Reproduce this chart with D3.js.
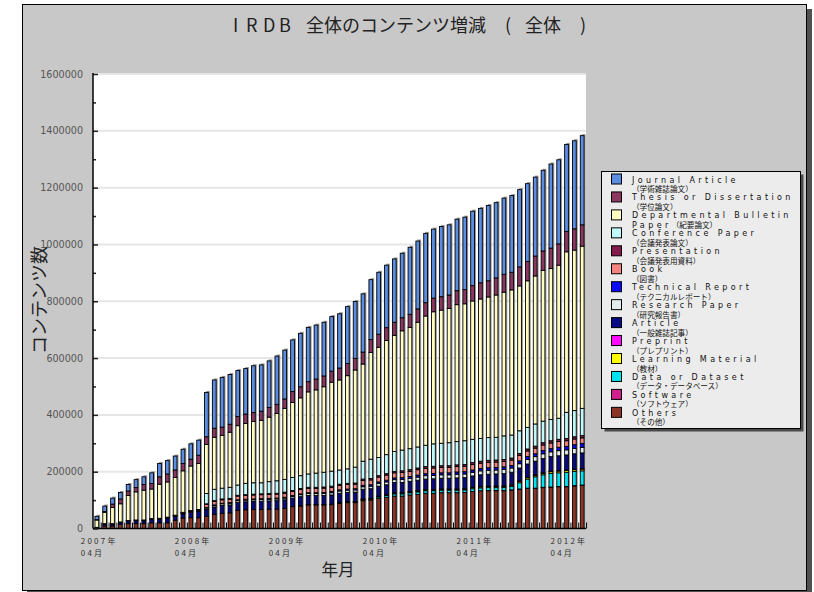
<!DOCTYPE html>
<html>
<head>
<meta charset="utf-8">
<script src="https://cdn.jsdelivr.net/npm/d3@7/dist/d3.min.js"></script>
<style>
  body { margin: 0; background: #fff; }
  svg text { font-family: "DejaVu Sans", "Noto Sans CJK JP", sans-serif; }
  .jp { font-family: "Noto Sans CJK JP", "DejaVu Sans", sans-serif; }
</style>
</head>
<body>
<svg id="chart" width="814" height="592"></svg>
<script>
// months shown on the x axis (one bar per month)
var months = [
  "2007/04","2007/05","2007/06","2007/07","2007/08","2007/09","2007/10","2007/11","2007/12","2008/01","2008/02","2008/03",
  "2008/04","2008/05","2008/06","2008/07","2008/08","2008/09","2008/10","2008/11","2008/12","2009/01","2009/02","2009/03",
  "2009/04","2009/05","2009/06","2009/07","2009/08","2009/09","2009/10","2009/11","2009/12","2010/01","2010/02","2010/03",
  "2010/04","2010/05","2010/06","2010/07","2010/08","2010/09","2010/10","2010/11","2010/12","2011/01","2011/02","2011/03",
  "2011/04","2011/05","2011/06","2011/07","2011/08","2011/09","2011/10","2011/11","2011/12","2012/01","2012/02","2012/03",
  "2012/04","2012/05","2012/06"
];

// x labels (year line / month line) and where they sit
var xLabelMonths = ["2007/04","2008/04","2009/04","2010/04","2011/04","2012/04"];
var xLabelYears  = ["2007年","2008年","2009年","2010年","2011年","2012年"];
var xLabelSub    = ["04月","04月","04月","04月","04月","04月"];

var yTicks = [0,200000,400000,600000,800000,1000000,1200000,1400000,1600000];
var yMinorTicks = [100000,300000,500000,700000,900000,1100000,1300000,1500000];

// series values (items per month)
var others = [2000,9000,9000,15000,17000,17000,17000,20000,20000,20000,29000,37000,38000,38000,
  43000,50000,53000,55000,64000,66000,67000,67000,68000,68000,
  71000,77000,79000,83000,83000,83000,84000,88000,91000,91000,
  98000,100000,106000,110000,114000,114000,118000,120000,124000,124000,
  126000,126000,126000,127000,130000,133000,133000,133000,133000,135000,
  138000,141000,141000,144000,145000,147000,147000,150000,152000];
var software = [0,0,0,0,0,0,0,0,0,0,0,0,0,0, 0,0,0,0,0,0,0,0,0,0, 0,0,0,0,0,0,0,0,0,0,
  0,0,0,0,0,0,0,0,0,0, 0,0,0,0,0,0,1000,1000,1000,1000, 1000,1000,1000,1000,1000,1000,1000,1000,1000];
var dataset = [0,0,0,0,0,0,0,0,0,0,0,0,0,0, 0,0,0,0,0,0,0,0,0,0, 0,0,1000,1000,1000,1000,1000,2000,2000,2000,
  3000,3000,5000,6000,8000,8000,8000,9000,9000,9000,
  9000,9000,9000,9000,10000,10000,10000,10000,10000,12000,
  22000,32000,40000,44000,48000,48000,50000,50000,50000];
var learning = [0,0,0,0,0,0,0,0,0,0,0,0,0,0, 0,0,0,0,0,0,0,0,0,0, 0,0,1000,1000,1000,1000,1000,1000,1000,1000,
  2000,2000,2000,2000,3000,3000,3000,3000,3000,3000,
  3000,3000,3000,3000,4000,4000,4000,4000,4000,4000,
  5000,5000,5000,5000,6000,6000,6000,6000,6000];
var preprint = [0,0,0,0,0,0,0,0,0,0,0,0,0,0, 0,0,0,0,0,0,0,0,0,0, 0,0,0,0,0,0,0,1000,1000,1000,
  1000,1000,1000,1000,1000,1000,1000,1000,1000,1000,
  1000,1000,1000,1000,1000,1000,1000,2000,2000,2000,
  2000,2000,2000,2000,2000,2000,2000,2000,2000];
var article = [2000,7000,7000,7000,9000,10000,10000,12000,12000,15000,13000,14000,18000,22000,
  24000,26000,28000,28000,28000,28000,28000,29000,29000,30000,
  30000,30000,31000,31000,31000,31000,32000,32000,32000,33000,
  34000,34000,35000,35000,36000,36000,36000,37000,37000,38000,
  38000,38000,39000,39000,40000,41000,42000,42000,43000,44000,
  45000,46000,48000,50000,51000,52000,53000,54000,55000];
var research = [0,1000,1000,1000,1000,2000,2000,2000,3000,3000,3000,3000,4000,4000,
  5000,5000,6000,6000,6000,6000,6000,6000,6000,6000,
  6000,6000,7000,7000,7000,7000,8000,8000,8000,8000,
  9000,9000,10000,10000,10000,11000,11000,11000,12000,12000,
  12000,12000,13000,13000,13000,14000,14000,14000,15000,15000,
  15000,16000,16000,17000,17000,18000,18000,19000,20000];
var technical = [0,0,0,0,1000,1000,1000,1000,1000,1000,1000,1000,1000,1000,
  2000,2000,2000,2000,3000,3000,3000,3000,3000,3000,
  3000,3000,3000,3000,3000,4000,4000,4000,4000,4000,
  5000,5000,5000,6000,6000,6000,6000,7000,7000,7000,
  7000,7000,8000,8000,8000,8000,9000,9000,9000,9000,
  10000,10000,10000,11000,11000,12000,12000,13000,13000];
var book = [0,0,0,0,0,0,0,0,0,1000,1000,1000,1000,1000,
  11000,12000,12000,12000,13000,13000,14000,14000,14000,14000,
  14000,14000,15000,15000,15000,15000,15000,16000,16000,16000,
  17000,17000,17000,18000,18000,18000,18000,19000,19000,19000,
  19000,19000,19000,19000,19000,19000,19000,19000,19000,19000,
  19000,20000,20000,20000,20000,20000,20000,20000,20000];
var presentation = [0,0,0,0,0,0,0,0,0,0,0,0,0,0,
  2000,3000,3000,3000,3000,3000,3000,3000,3000,3000,
  4000,4000,4000,4000,4000,4000,4000,4000,4000,4000,
  5000,5000,5000,5000,5000,6000,6000,6000,6000,6000,
  6000,6000,6000,6000,7000,7000,7000,7000,7000,7000,
  7000,7000,7000,8000,8000,8000,8000,8000,8000];
var conference = [0,0,0,0,0,0,0,0,0,0,0,1000,1000,1000,
  36000,40000,38000,39000,36000,40000,40000,39000,42000,44000,
  45000,46000,45000,47000,50000,52000,53000,50000,51000,56000,
  63000,68000,64000,67000,70000,73000,74000,74000,75000,79000,
  79000,81000,82000,84000,82000,80000,80000,80000,83000,81000,
  80000,76000,78000,76000,75000,74000,92000,92000,96000];
var departmental = [26000,40000,57000,64000,88000,99000,105000,104000,120000,124000,133000,146000,157000,162000,
  173000,183000,186000,194000,209000,211000,216000,220000,227000,237000,
  250000,264000,274000,289000,293000,301000,313000,317000,328000,342000,
  342000,376000,388000,402000,409000,420000,427000,439000,455000,465000,
  469000,473000,482000,482000,487000,491000,495000,501000,506000,511000,
  510000,516000,521000,531000,531000,539000,565000,565000,571000];
var thesis = [1000,3000,12000,17000,16000,15000,20000,19000,26000,28000,26000,26000,24000,29000,
  27000,32000,29000,28000,32000,33000,31000,32000,34000,32000,
  33000,38000,39000,36000,38000,38000,39000,42000,43000,41000,
  42000,45000,46000,45000,46000,46000,46000,47000,47000,48000,
  47000,47000,49000,50000,54000,57000,57000,60000,63000,62000,
  67000,68000,70000,68000,72000,75000,72000,75000,75000];
var journal = [12000,19000,21000,23000,23000,28000,27000,38000,47000,47000,49000,50000,54000,53000,
  156000,170000,175000,175000,162000,160000,165000,163000,164000,170000,
  172000,182000,188000,191000,190000,189000,192000,191000,200000,200000,
  205000,211000,218000,220000,223000,227000,236000,239000,244000,243000,
  247000,247000,252000,255000,262000,262000,265000,265000,268000,270000,
  272000,274000,278000,284000,296000,296000,306000,310000,314000];

// legend order (top to bottom); the stack is drawn in reverse
var seriesKeys = ["journal","thesis","departmental","conference","presentation","book","technical",
  "research","article","preprint","learning","dataset","software","others"];
var seriesValues = [journal,thesis,departmental,conference,presentation,book,technical,
  research,article,preprint,learning,dataset,software,others];
var legendEn = ["Journal Article","Thesis or Dissertation","Departmental Bulletin","Conference Paper",
  "Presentation","Book","Technical Report","Research Paper","Article","Preprint",
  "Learning Material","Data or Dataset","Software","Others"];
var legendJaLead = ["","","Paper","","","","","","","","","","",""];
var legendJa = ["（学術雑誌論文）","（学位論文）","（紀要論文）","（会議発表論文）","（会議発表用資料）",
  "（図書）","（テクニカルレポート）","（研究報告書）","（一般雑誌記事）","（プレプリント）",
  "（教材）","（データ・データベース）","（ソフトウェア）","（その他）"];
var colors = ["#5b8de3","#8c3762","#fffcc2","#bff9f9","#851a4c","#f38480","#0a0aff",
  "#e2ecec","#0a0a84","#ff0aff","#ffff00","#00e3f0","#d21f8e","#8c3526"];

// table for d3.stack
var table = months.map(function(m, i) {
  var row = { month: m };
  seriesKeys.forEach(function(k, j) { row[k] = seriesValues[j][i]; });
  return row;
});

var svg = d3.select("#chart");

// panel + shadow
svg.append("rect").attr("x", 27).attr("y", 9).attr("width", 785).attr("height", 590).attr("fill", "#505050");
svg.append("rect").attr("x", 22.5).attr("y", 4.5).attr("width", 784).attr("height", 586)
  .attr("fill", "#c8c8c8").attr("stroke", "#000").attr("stroke-width", 1);

var plot = { left: 93, right: 586, top: 74, bottom: 528.5 };

var x = d3.scaleBand().domain(months).range([plot.left, plot.right])
  .paddingInner(0.52).paddingOuter(0.25);
var y = d3.scaleLinear().domain([0, 1600000]).range([plot.bottom, plot.top]);

svg.append("rect").attr("x", plot.left).attr("y", plot.top)
  .attr("width", plot.right - plot.left).attr("height", plot.bottom - plot.top).attr("fill", "#fff");

// gridlines
svg.append("g").selectAll("line").data(yTicks.slice(1)).enter().append("line")
  .attr("x1", plot.left).attr("x2", plot.right)
  .attr("y1", function(d) { return y(d); }).attr("y2", function(d) { return y(d); })
  .attr("stroke", "#e6e6e6").attr("stroke-width", 2);

// bars
var stackKeys = seriesKeys.slice().reverse();
var stacked = d3.stack().keys(stackKeys)(table);
var bw = x.bandwidth();

function total(d) { return d3.sum(seriesKeys, function(k) { return d[k]; }); }

svg.append("g").selectAll("rect").data(table).enter().append("rect")
  .attr("x", function(d) { return x(d.month) + 1.5; })
  .attr("y", function(d) { return y(total(d)) - 1.5; })
  .attr("width", bw)
  .attr("height", function(d) { return plot.bottom - y(total(d)) + 1.5; })
  .attr("fill", "#959595");

var layers = svg.append("g").selectAll("g").data(stacked).enter().append("g")
  .attr("fill", function(d) { return colors[seriesKeys.indexOf(d.key)]; });

layers.selectAll("rect").data(function(d) { return d.filter(function(p) { return p[1] > p[0]; }); })
  .enter().append("rect")
  .attr("x", function(d) { return x(d.data.month); })
  .attr("y", function(d) { return y(d[1]); })
  .attr("width", bw)
  .attr("height", function(d) { return y(d[0]) - y(d[1]); })
  .attr("stroke", "#000").attr("stroke-width", 0.9);

// x axis: baseline, small ticks between bars
var step = x.step();
svg.append("g").selectAll("line").data(months).enter().append("line")
  .attr("x1", function(d) { return x(d) + bw + (step - bw) / 2 + 0.5; })
  .attr("x2", function(d) { return x(d) + bw + (step - bw) / 2 + 0.5; })
  .attr("y1", plot.bottom - 6).attr("y2", plot.bottom)
  .attr("stroke", "#000").attr("stroke-width", 1);
svg.append("line").attr("x1", plot.left).attr("x2", plot.right)
  .attr("y1", plot.bottom).attr("y2", plot.bottom).attr("stroke", "#000").attr("stroke-width", 1.5);

var xl = svg.append("g").attr("fill", "#333").attr("font-size", 8).attr("letter-spacing", 2.2);
xLabelMonths.forEach(function(m, i) {
  var cx = x(m) + bw / 2;
  xl.append("text").attr("class", "jp").attr("x", cx - 16).attr("y", 544).text(xLabelYears[i]);
  xl.append("text").attr("class", "jp").attr("x", cx - 16).attr("y", 556).text(xLabelSub[i]);
});

// y axis
var yMinor = svg.append("g").attr("transform", "translate(" + plot.left + ",0)")
  .call(d3.axisLeft(y).tickValues(yMinorTicks).tickSize(-3).tickFormat(""));
var yAxis = svg.append("g").attr("transform", "translate(" + plot.left + ",0)")
  .call(d3.axisLeft(y).tickValues(yTicks).tickSize(-5).tickPadding(10).tickFormat(d3.format("d")));
[yMinor, yAxis].forEach(function(g) {
  g.select(".domain").remove();
  g.selectAll(".tick line").attr("stroke", "#222").attr("stroke-width", 1.5);
});
yAxis.selectAll("text").attr("font-size", 9.6).attr("fill", "#555")
  .attr("font-family", "DejaVu Sans");
svg.append("line").attr("x1", plot.left).attr("x2", plot.left)
  .attr("y1", plot.top - 1).attr("y2", plot.bottom).attr("stroke", "#000").attr("stroke-width", 1.5);

// axis titles
svg.append("text").attr("class", "jp").attr("transform", "translate(46,300) rotate(-90)")
  .attr("text-anchor", "middle").attr("font-size", 18).attr("fill", "#222").text("コンテンツ数");
svg.append("text").attr("class", "jp").attr("x", 338).attr("y", 576)
  .attr("text-anchor", "middle").attr("font-size", 16.5).attr("fill", "#222").text("年月");

// title
var title = svg.append("text").attr("class", "jp").attr("y", 32).attr("font-size", 18).attr("fill", "#222");
title.append("tspan").attr("x", 233).text("I");
title.append("tspan").attr("x", 246).text("R");
title.append("tspan").attr("x", 263).text("D");
title.append("tspan").attr("x", 279).text("B");
title.append("tspan").attr("x", 306).text("全体のコンテンツ増減");
title.append("tspan").attr("x", 505).text("(");
title.append("tspan").attr("x", 525).text("全体");
title.append("tspan").attr("x", 580).text(")");

// legend
var lg = svg.append("g");
lg.append("rect").attr("x", 604.5).attr("y", 174.5).attr("width", 199).attr("height", 257).attr("fill", "#4a4a4a");
lg.append("rect").attr("x", 601.5).attr("y", 171.5).attr("width", 199).attr("height", 257)
  .attr("fill", "#ececec").attr("stroke", "#000").attr("stroke-width", 1);
var item = lg.selectAll("g.item").data(seriesKeys).enter().append("g").attr("class", "item")
  .attr("transform", function(d, i) { return "translate(611," + (173.5 + i * 17.95) + ")"; });
item.append("rect").attr("x", 0.5).attr("y", 0.5).attr("width", 10).attr("height", 10)
  .attr("fill", function(d, i) { return colors[i]; }).attr("stroke", "#000").attr("stroke-width", 1);
item.append("text").attr("x", 21).attr("y", 9).attr("font-size", 8).attr("letter-spacing", 3.4)
  .attr("fill", "#111").text(function(d, i) { return legendEn[i]; });
var ja = item.append("text").attr("class", "jp").attr("x", 21).attr("y", 18.5).attr("fill", "#111");
ja.append("tspan").attr("font-family", "DejaVu Sans").attr("font-size", 8).attr("letter-spacing", 3.4)
  .text(function(d, i) { return legendJaLead[i]; });
ja.append("tspan").attr("font-size", 7.6).text(function(d, i) { return legendJa[i]; });
</script>
</body>
</html>
